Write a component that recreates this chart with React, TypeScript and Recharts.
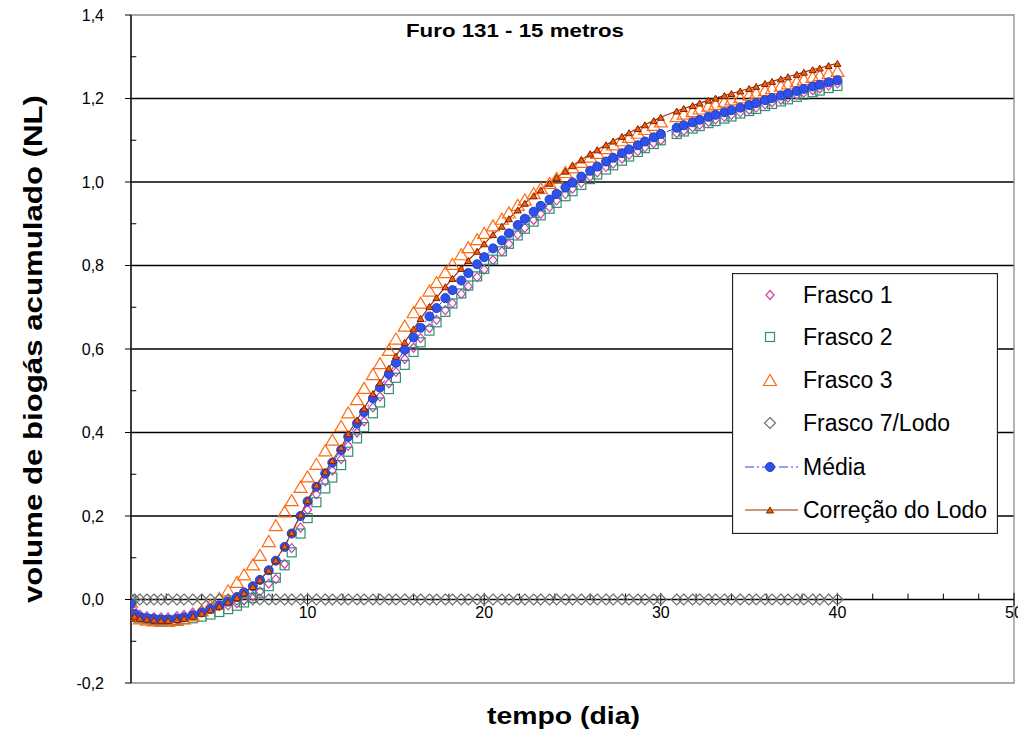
import React from "react";
import {
  ComposedChart,
  Line,
  XAxis,
  YAxis,
  CartesianGrid,
  ReferenceLine,
  ReferenceArea,
  Legend,
} from "recharts";

// tempo (dia)
const days = [
  0, 0.2, 0.5, 0.9, 1.3, 1.7, 2.1, 2.6, 3.0, 3.5,
  4.0, 4.5, 5.0, 5.5, 6.0, 6.4, 6.9, 7.3, 7.8, 8.2,
  8.7, 9.1, 9.6, 10.0, 10.5, 11.0, 11.4, 11.9, 12.3, 12.8,
  13.2, 13.7, 14.1, 14.6, 15.0, 15.5, 16.0, 16.4, 16.9, 17.3,
  17.8, 18.2, 18.7, 19.1, 19.6, 20.0, 20.5, 21.0, 21.4, 21.9,
  22.3, 22.8, 23.2, 23.7, 24.1, 24.6, 25.0, 25.5, 26.0, 26.4,
  26.9, 27.3, 27.8, 28.2, 28.7, 29.1, 29.6, 30.0, 30.9, 31.3,
  31.8, 32.2, 32.7, 33.1, 33.6, 34.0, 34.5, 35.0, 35.4, 35.9,
  36.3, 36.8, 37.2, 37.7, 38.1, 38.6, 39.0, 39.5, 40.0,
];

const frasco1 = [
  -0.030, -0.028, -0.036, -0.040, -0.042, -0.043, -0.043, -0.040, -0.037, -0.031,
  -0.026, -0.020, -0.016, -0.014, -0.009, -0.002, 0.008, 0.019, 0.038, 0.049,
  0.085, 0.123, 0.172, 0.215, 0.252, 0.283, 0.309, 0.336, 0.368, 0.400,
  0.427, 0.460, 0.486, 0.518, 0.545, 0.576, 0.603, 0.626, 0.650, 0.670,
  0.693, 0.710, 0.732, 0.750, 0.772, 0.790, 0.813, 0.834, 0.852, 0.874,
  0.890, 0.909, 0.924, 0.940, 0.956, 0.971, 0.984, 0.998, 1.013, 1.023,
  1.036, 1.044, 1.056, 1.065, 1.074, 1.083, 1.093, 1.100, 1.117, 1.123,
  1.131, 1.137, 1.144, 1.150, 1.156, 1.161, 1.167, 1.173, 1.178, 1.186,
  1.191, 1.197, 1.202, 1.209, 1.214, 1.220, 1.224, 1.231, 1.236,
];

const frasco2 = [
  0.000, -0.040, -0.045, -0.047, -0.049, -0.050, -0.050, -0.049, -0.047, -0.045,
  -0.041, -0.036, -0.030, -0.023, -0.015, -0.007, 0.004, 0.015, 0.032, 0.052,
  0.082, 0.113, 0.158, 0.195, 0.233, 0.266, 0.292, 0.322, 0.354, 0.386,
  0.413, 0.446, 0.472, 0.504, 0.531, 0.562, 0.593, 0.616, 0.644, 0.664,
  0.689, 0.709, 0.733, 0.752, 0.774, 0.792, 0.814, 0.834, 0.852, 0.872,
  0.888, 0.905, 0.920, 0.936, 0.950, 0.966, 0.978, 0.993, 1.007, 1.018,
  1.030, 1.040, 1.051, 1.061, 1.072, 1.081, 1.091, 1.100, 1.115, 1.121,
  1.128, 1.134, 1.141, 1.146, 1.152, 1.157, 1.164, 1.170, 1.175, 1.182,
  1.187, 1.193, 1.198, 1.204, 1.209, 1.215, 1.219, 1.225, 1.230,
];

const frasco3 = [
  -0.005, -0.038, -0.045, -0.048, -0.050, -0.051, -0.051, -0.049, -0.045, -0.038,
  -0.026, -0.013, 0.004, 0.022, 0.042, 0.060, 0.084, 0.107, 0.140, 0.178,
  0.211, 0.238, 0.270, 0.295, 0.325, 0.357, 0.383, 0.416, 0.448, 0.480,
  0.507, 0.540, 0.566, 0.598, 0.625, 0.656, 0.688, 0.711, 0.740, 0.760,
  0.784, 0.804, 0.827, 0.844, 0.863, 0.878, 0.896, 0.912, 0.927, 0.945,
  0.958, 0.973, 0.985, 0.998, 1.010, 1.024, 1.035, 1.048, 1.061, 1.070,
  1.081, 1.090, 1.100, 1.108, 1.118, 1.127, 1.137, 1.145, 1.158, 1.164,
  1.170, 1.176, 1.183, 1.187, 1.193, 1.198, 1.203, 1.209, 1.214, 1.220,
  1.225, 1.231, 1.236, 1.241, 1.246, 1.252, 1.256, 1.261, 1.266,
];

const frascoLodo = [
  0, 0, 0, 0, 0, 0, 0, 0, 0, 0,
  0, 0, 0, 0, 0, 0, 0, 0, 0, 0,
  0, 0, 0, 0, 0, 0, 0, 0, 0, 0,
  0, 0, 0, 0, 0, 0, 0, 0, 0, 0,
  0, 0, 0, 0, 0, 0, 0, 0, 0, 0,
  0, 0, 0, 0, 0, 0, 0, 0, 0, 0,
  0, 0, 0, 0, 0, 0, 0, 0, 0, 0,
  0, 0, 0, 0, 0, 0, 0, 0, 0, 0,
  0, 0, 0, 0, 0, 0, 0, 0, 0,
];

const media = [
  -0.010, -0.035, -0.042, -0.045, -0.047, -0.048, -0.048, -0.046, -0.043, -0.038,
  -0.031, -0.023, -0.014, -0.005, 0.006, 0.017, 0.032, 0.047, 0.070, 0.093,
  0.126, 0.158, 0.200, 0.235, 0.270, 0.302, 0.328, 0.358, 0.390, 0.422,
  0.449, 0.482, 0.508, 0.540, 0.567, 0.598, 0.628, 0.651, 0.678, 0.698,
  0.722, 0.741, 0.764, 0.782, 0.803, 0.820, 0.841, 0.860, 0.877, 0.897,
  0.912, 0.929, 0.943, 0.958, 0.972, 0.987, 0.999, 1.013, 1.027, 1.037,
  1.049, 1.058, 1.069, 1.078, 1.088, 1.097, 1.107, 1.115, 1.130, 1.136,
  1.143, 1.149, 1.156, 1.161, 1.167, 1.172, 1.178, 1.184, 1.189, 1.196,
  1.201, 1.207, 1.212, 1.218, 1.223, 1.229, 1.233, 1.239, 1.244,
];

const correcao = [
  -0.045, -0.040, -0.045, -0.047, -0.049, -0.050, -0.050, -0.048, -0.045, -0.040,
  -0.033, -0.025, -0.016, -0.006, 0.005, 0.016, 0.031, 0.047, 0.070, 0.094,
  0.128, 0.160, 0.203, 0.238, 0.274, 0.306, 0.333, 0.364, 0.397, 0.430,
  0.458, 0.493, 0.520, 0.554, 0.583, 0.616, 0.648, 0.673, 0.702, 0.723,
  0.749, 0.769, 0.793, 0.812, 0.834, 0.852, 0.874, 0.894, 0.912, 0.933,
  0.949, 0.967, 0.981, 0.997, 1.011, 1.026, 1.039, 1.053, 1.067, 1.077,
  1.089, 1.098, 1.109, 1.118, 1.128, 1.137, 1.147, 1.155, 1.170, 1.176,
  1.183, 1.189, 1.196, 1.201, 1.207, 1.212, 1.218, 1.224, 1.229, 1.236,
  1.241, 1.247, 1.252, 1.258, 1.263, 1.269, 1.273, 1.279, 1.284,
];

const yDomain = [-0.2, 1.4];
const yTicks = [-0.2, 0, 0.2, 0.4, 0.6, 0.8, 1.0, 1.2, 1.4];
const yMinorTicks = [-0.1, 0.1, 0.3, 0.5, 0.7, 0.9, 1.1, 1.3];
const gridLevels = [0.2, 0.4, 0.6, 0.8, 1.0, 1.2];
const xTicks = [10, 20, 30, 40, 50];
const xMinorTicks = [2, 4, 6, 8, 12, 14, 16, 18, 22, 24, 26, 28, 32, 34, 36, 38, 42, 44, 46, 48];

const seriesNames = ["Frasco 1", "Frasco 2", "Frasco 3", "Frasco 7/Lodo", "Média", "Correção do Lodo"];
const seriesKeys = ["f1", "f2", "f3", "lodo", "media", "corr"];

const rows = days.map((t, i) => ({
  t,
  f1: frasco1[i],
  f2: frasco2[i],
  f3: frasco3[i],
  lodo: frascoLodo[i],
  media: media[i],
  corr: correcao[i],
}));

const FONT = "'Liberation Sans', Arial, sans-serif";

// chart box
const W = 1018;
const H = 725;
const TOP = 7;
const XAXIS_H = 50;
const PLOT_H = H - TOP - XAXIS_H;
// x axis crosses at y = 0, so tick labels are lifted from the bottom edge
const ZERO_LIFT = (PLOT_H * (0 - yDomain[0])) / (yDomain[1] - yDomain[0]);

const tri = (x: number, y: number, w: number, h: number) =>
  `M${x - w / 2},${y + h / 2}L${x},${y - h / 2}L${x + w / 2},${y + h / 2}Z`;
const dia = (x: number, y: number, w: number, h: number) =>
  `M${x},${y - h}L${x + w},${y}L${x},${y + h}L${x - w},${y}Z`;

const marker = (key: string, x: number, y: number, k: string) => {
  switch (key) {
    case "f1":
      return <path key={k} d={dia(x, y, 4, 4.5)} fill="none" stroke="#d040b0" strokeWidth={1.2} />;
    case "f2":
      return <rect key={k} x={x - 4.5} y={y - 4.5} width={9} height={9} fill="none" stroke="#2e9070" strokeWidth={1.2} />;
    case "f3":
      return <path key={k} d={tri(x, y, 13, 11)} fill="none" stroke="#ff6a10" strokeWidth={1.2} />;
    case "lodo":
      return <path key={k} d={dia(x, y, 5.5, 5.5)} fill="none" stroke="#707070" strokeWidth={1.2} />;
    case "media":
      return <circle key={k} cx={x} cy={y} r={4.5} fill="#3050ee" stroke="#2040c0" strokeWidth={1} />;
    default:
      return <path key={k} d={tri(x, y, 7, 6)} fill="#e86010" stroke="#8b1e00" strokeWidth={1} />;
  }
};

const dotFor = (key: string) => (p: any) => {
  if (p.cx == null || p.cy == null) return <g key={`${key}-${p.index}`} />;
  return marker(key, p.cx, p.cy, `${key}-${p.index}`);
};

const LegendBox = () => {
  const rowY = [22, 64, 107, 150, 194, 237];
  return (
    <svg width={266} height={261} style={{ display: "block", fontFamily: FONT }}>
      <rect x={0.5} y={0.5} width={265} height={260} fill="#fff" stroke="#222" strokeWidth={1.3} />
      {seriesKeys.map((key, i) => (
        <g key={key}>
          {key === "media" && (
            <line x1={13} x2={66} y1={rowY[i]} y2={rowY[i]} stroke="#2a3cff" strokeWidth={1} strokeDasharray="9 3 2 3" />
          )}
          {key === "corr" && (
            <line x1={13} x2={66} y1={rowY[i]} y2={rowY[i]} stroke="#993300" strokeWidth={1.2} />
          )}
          {marker(key, 38, rowY[i], `lg-${key}`)}
          <text x={71} y={rowY[i]} dominantBaseline="central" fontSize={23} fill="#000">
            {seriesNames[i]}
          </text>
        </g>
      ))}
    </svg>
  );
};

const fmt = (v: number) => v.toFixed(1).replace(".", ",");

export default function App() {
  return (
    <div style={{ position: "relative", width: W, height: H, fontFamily: FONT }}>
      {/* keep the page free of scrollbars so the right edge is not cut */}
      <style>{`html, body { overflow: hidden; }`}</style>
      <ComposedChart
        width={W}
        height={H}
        data={rows}
        margin={{ top: TOP, right: 12, bottom: 0, left: 0 }}
      >
        <CartesianGrid horizontalValues={gridLevels} vertical={false} stroke="#000" strokeWidth={1.3} />
        <ReferenceArea x1={0} x2={50} y1={-0.2} y2={1.4} fill="none" stroke="#8c8c8c" strokeWidth={1.3} />
        <XAxis
          dataKey="t"
          type="number"
          domain={[0, 50]}
          ticks={xTicks}
          interval={0}
          allowDataOverflow
          tickSize={0}
          tickMargin={0}
          tickLine={false}
          axisLine={false}
          height={XAXIS_H}
          tick={(p: any) => (
            <text
              key={`xt-${p.payload.value}`}
              x={p.x}
              y={p.y - ZERO_LIFT + 18}
              textAnchor="middle"
              fontSize={16}
              fontFamily={FONT}
              fill="#000"
            >
              {p.payload.value}
            </text>
          )}
          label={(p: any) => (
            <text
              x={p.viewBox.x + p.viewBox.width / 2 - 9}
              y={p.viewBox.y + 41}
              textAnchor="middle"
              fontSize={24}
              fontWeight="bold"
              fontFamily={FONT}
              textLength={153}
              lengthAdjust="spacingAndGlyphs"
              fill="#000"
            >
              tempo (dia)
            </text>
          )}
        />
        <YAxis
          type="number"
          domain={yDomain}
          ticks={yTicks}
          interval={0}
          allowDataOverflow
          width={123}
          tickFormatter={fmt}
          tickSize={6}
          tickMargin={21}
          tick={{ fontSize: 16, fill: "#000", fontFamily: FONT }}
          tickLine={{ stroke: "#000" }}
          axisLine={{ stroke: "#000", strokeWidth: 1.3 }}
          label={(p: any) => {
            const x = p.viewBox.x + 25;
            const y = p.viewBox.y + p.viewBox.height / 2;
            return (
              <text
                x={x}
                y={y}
                transform={`rotate(-90 ${x} ${y})`}
                textAnchor="middle"
                dominantBaseline="central"
                fontSize={26}
                fontWeight="bold"
                fontFamily={FONT}
                textLength={508}
                lengthAdjust="spacingAndGlyphs"
                fill="#000"
              >
                volume de biogás acumulado (NL)
              </text>
            );
          }}
        />
        <ReferenceLine y={0} stroke="#000" strokeWidth={1.3} />
        {xMinorTicks.map((v) => (
          <ReferenceLine key={`xm-${v}`} segment={[{ x: v, y: 0 }, { x: v, y: 0.014 }]} stroke="#000" />
        ))}
        {xTicks.map((v) => (
          <ReferenceLine key={`xM-${v}`} segment={[{ x: v, y: -0.016 }, { x: v, y: 0.016 }]} stroke="#000" />
        ))}
        {yMinorTicks.map((v) => (
          <ReferenceLine key={`ym-${v}`} segment={[{ x: 0, y: v }, { x: 0.3, y: v }]} stroke="#000" />
        ))}
        {seriesKeys.map((key) => (
          <Line
            key={key}
            dataKey={key}
            name={seriesNames[seriesKeys.indexOf(key)]}
            stroke={key === "media" ? "#2a3cff" : key === "corr" ? "#993300" : "none"}
            strokeWidth={key === "corr" ? 1.2 : 1}
            strokeDasharray={key === "media" ? "9 3 2 3" : undefined}
            dot={dotFor(key)}
            activeDot={false}
            isAnimationActive={false}
          />
        ))}
        <Legend
          layout="vertical"
          align="center"
          verticalAlign="middle"
          content={() => <LegendBox />}
          wrapperStyle={{ left: 724, top: 265, width: 266, height: 261 }}
        />
      </ComposedChart>
      <svg
        width={W}
        height={50}
        style={{ position: "absolute", left: 0, top: 0, pointerEvents: "none" }}
      >
        <text
          x={507}
          y={29}
          textAnchor="middle"
          fontSize={19}
          fontWeight="bold"
          fontFamily={FONT}
          textLength={218}
          lengthAdjust="spacingAndGlyphs"
          fill="#000"
        >
          Furo 131 - 15 metros
        </text>
      </svg>
    </div>
  );
}
